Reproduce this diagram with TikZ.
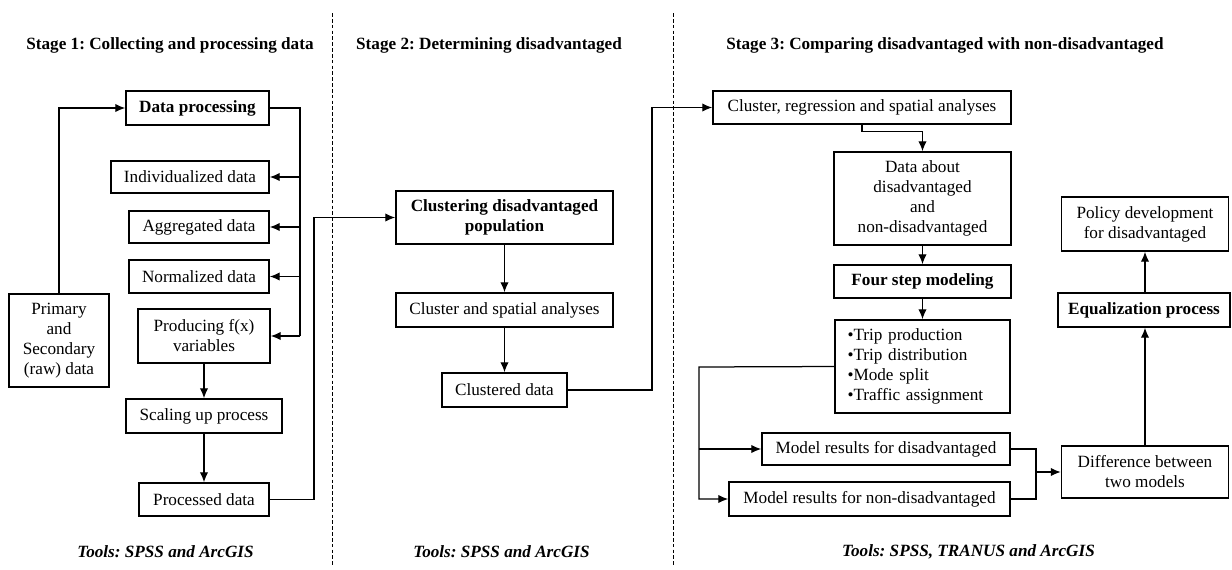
\documentclass[tikz,border=0pt]{standalone}
\usepackage{fontspec}
\setmainfont{Liberation Serif}
\usetikzlibrary{arrows.meta}
\frenchspacing

\begin{document}
\begin{tikzpicture}[x=0.6pt, y=-0.6pt,
  every node/.style={align=center, inner sep=0pt, font=\fontsize{10.3}{12}\selectfont},
  stagebox/.style 2 args={draw, line width=0.85pt, minimum width=#1*0.6pt, minimum height=#2*0.6pt},
  title/.style={font=\fontsize{10.3}{12}\selectfont\bfseries},
  tools/.style={font=\fontsize{10.3}{12}\selectfont\bfseries\itshape},
  link/.style={line width=0.75pt},
  sep/.style={line width=0.6pt, dash pattern=on 2.2pt off 1.3pt},
  >={Latex[length=6pt,width=5pt]}]
\useasboundingbox[fill=white] (0,0) rectangle (1232,569);

% stage separators
\draw[sep] (332,13) -- (332,565);
\draw[sep] (673,13) -- (673,565);

% headings and tools
\node[title] (h1) at (170,45) {Stage 1: Collecting and processing data};
\node[title] (h2) at (489,45) {Stage 2: Determining disadvantaged};
\node[title] (h3) at (945,45) {Stage 3: Comparing disadvantaged with non-disadvantaged};
\node[tools] (t1) at (165.5,552) {Tools: SPSS and ArcGIS};
\node[tools] (t2) at (501.5,552) {Tools: SPSS and ArcGIS};
\node[tools] (t3) at (968.5,552) {Tools: SPSS, TRANUS and ArcGIS};

% stage 1
\node[stagebox={143}{34}, font=\fontsize{10.3}{12}\selectfont\bfseries] (dp) at (197.5,108) {Data processing};
\node[stagebox={158}{32}] (ind) at (190,177) {Individualized data};
\node[stagebox={140}{32}] (agg) at (199,227) {Aggregated data};
\node[stagebox={140}{33}] (norm) at (199,276.5) {Normalized data};
\node[stagebox={132}{54}] (fx) at (204,336) {Producing f(x)\\variables};
\node[stagebox={100}{93}] (raw) at (59,340.5) {Primary\\and\\Secondary\\(raw) data};
\node[stagebox={156}{34}] (scal) at (204,416) {Scaling up process};
\node[stagebox={130}{33}] (proc) at (204,499.5) {Processed data};

% stage 2
\node[stagebox={217}{53}, font=\fontsize{10.3}{12}\selectfont\bfseries] (clu) at (504.5,217.5) {Clustering disadvantaged\\population};
\node[stagebox={217}{34}] (csa) at (504.5,310) {Cluster and spatial analyses};
\node[stagebox={125}{34}] (cd) at (504.5,390) {Clustered data};

% stage 3
\node[stagebox={298}{33}] (crs) at (862,107.5) {Cluster, regression and spatial analyses};
\node[stagebox={177}{93}] (dab) at (922.5,198.5) {Data about\\disadvantaged\\and\\non-disadvantaged};
\node[stagebox={177}{33}, font=\fontsize{10.3}{12}\selectfont\bfseries] (fsm) at (922.5,281.5) {Four step modeling};
\node[stagebox={175}{93}, text width=150*0.6pt, align=left] (trip) at (922.5,366.5)
  {\textbullet Trip production\\\textbullet Trip distribution\\\textbullet Mode split\\\textbullet Traffic assignment};
\node[stagebox={248}{32}] (mrd) at (886,449) {Model results for disadvantaged};
\node[stagebox={281}{34}] (mrn) at (869.5,499) {Model results for non-disadvantaged};
\node[stagebox={167}{52}] (diff) at (1145,472) {Difference between\\two models};
\node[stagebox={172}{34}, font=\fontsize{10.3}{12}\selectfont\bfseries] (eq) at (1144,310) {Equalization process};
\node[stagebox={167}{54}] (pol) at (1145,224) {Policy development\\for disadvantaged};

% junctions
\coordinate (bus) at (300,336);
\coordinate (j1) at (314,217.5);
\coordinate (j2) at (652,107.5);
\coordinate (j3) at (699,367);
\coordinate (j4) at (1036,472);

% stage 1 connectors
\draw[link,->] (raw.north) |- (dp.west);
\draw[link] (dp.east) -| (bus);
\foreach \n in {ind,agg,norm,fx}
  \draw[link,->] (bus |- \n.east) -- (\n.east);
\draw[link,->] (fx) -- (scal);
\draw[link,->] (scal) -- (proc);
\draw[link,->] (proc.east) -| (j1) -- (clu.west);

% stage 2 connectors
\draw[link,->] (clu) -- (csa);
\draw[link,->] (csa) -- (cd);
\draw[link,->] (cd.east) -| (j2) -- (crs.west);

% stage 3 connectors
\draw[link,->] (crs.south) -- ++(0,7) -| (dab.north);
\draw[link,->] (dab) -- (fsm);
\draw[link,->] (fsm) -- (trip);
\draw[link,->] (trip.west) -- (j3) |- (mrn.west);
\draw[link,->] (j3 |- mrd.west) -- (mrd.west);
\draw[link] (mrd.east) -| (j4) |- (mrn.east);
\draw[link,->] (j4) -- (diff.west);
\draw[link,->] (diff.north) -- (diff.north |- eq.south);
\draw[link,->] (eq.north -| pol.south) -- (pol.south);
\end{tikzpicture}
\end{document}
